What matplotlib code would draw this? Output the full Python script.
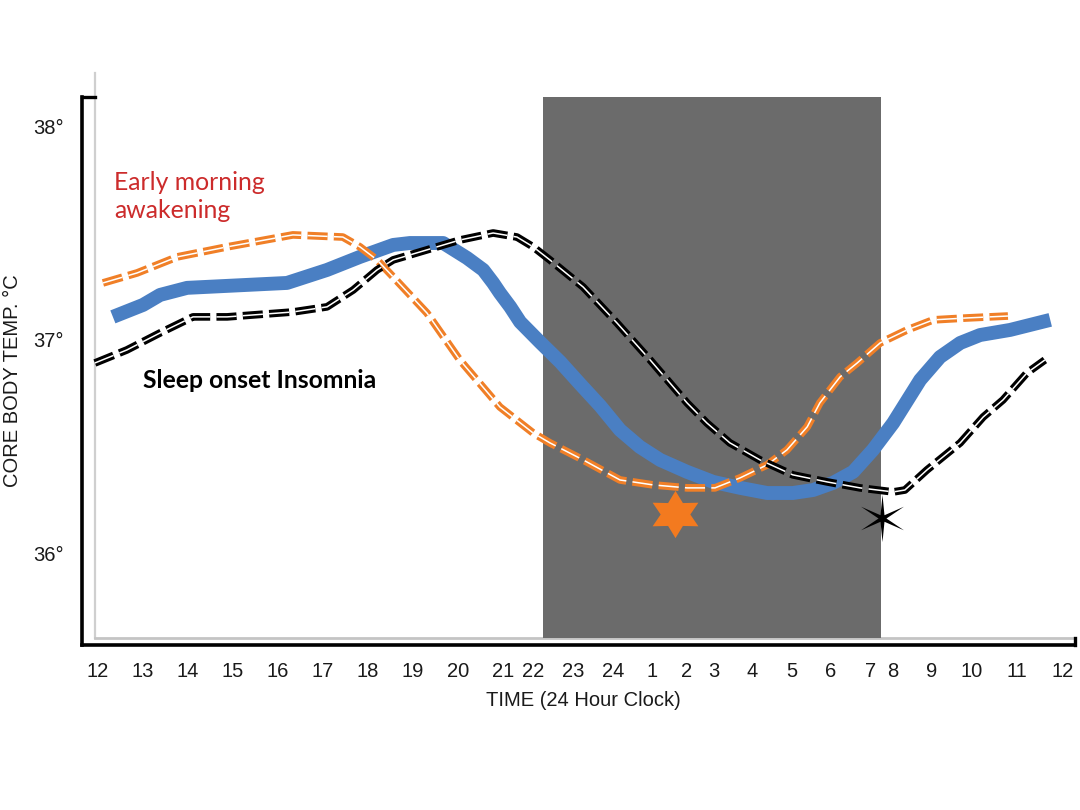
import matplotlib
matplotlib.use("Agg")
import matplotlib.pyplot as plt
from matplotlib.path import Path
from matplotlib.patches import Rectangle
from matplotlib.transforms import Affine2D

plt.rcParams['font.family'] = ['Liberation Sans', 'DejaVu Sans']
plt.rcParams['lines.scale_dashes'] = False

# x in hours after 12:00 noon (position along the drawn axis)
tick_labels = ["12", "13", "14", "15", "16", "17", "18", "19", "20", "21", "22", "23", "24",
               "1", "2", "3", "4", "5", "6", "7", "8", "9", "10", "11", "12"]
tick_pos = [0, 1, 2, 3, 4, 5, 6, 7, 8, 9, 9.67, 10.56, 11.44,
            12.31, 13.07, 13.69, 14.53, 15.42, 16.29, 17.16, 17.67, 18.53, 19.42, 20.42, 21.44]
y_ticks = [36, 37, 38]
y_tick_labels = ["36°", "37°", "38°"]

blue_x = [0.33, 1.0, 1.38, 1.98, 4.2, 5.09, 5.82, 6.56, 6.93, 7.67, 8.2, 8.56, 8.78, 8.93, 9.16,
          9.38, 9.82, 10.27, 10.71, 11.16, 11.6, 12.04, 12.49, 13.09, 13.67, 14.27, 14.87, 15.44,
          15.89, 16.33, 16.78, 17.22, 17.67, 18.27, 18.71, 19.16, 19.6, 20.27, 21.16]
blue_y = [37.108, 37.164, 37.211, 37.244, 37.267, 37.328, 37.389, 37.445, 37.454, 37.454, 37.384,
          37.328, 37.267, 37.22, 37.155, 37.084, 36.99, 36.897, 36.794, 36.691, 36.578, 36.499,
          36.438, 36.382, 36.335, 36.307, 36.283, 36.283, 36.297, 36.33, 36.382, 36.485, 36.611,
          36.813, 36.92, 36.986, 37.023, 37.047, 37.094]

orange_x = [0.11, 0.87, 1.76, 2.87, 4.33, 5.44, 5.82, 6.2, 6.56, 7.31, 8.04, 8.93, 9.67, 10.04,
            10.78, 11.6, 12.33, 13.09, 13.71, 14.27, 14.87, 15.31, 15.76, 16.04, 16.49, 16.87,
            17.38, 17.98, 18.56, 19.31, 20.22]
orange_y = [37.267, 37.314, 37.389, 37.436, 37.492, 37.482, 37.436, 37.375, 37.295, 37.126,
            36.906, 36.686, 36.564, 36.518, 36.438, 36.344, 36.321, 36.307, 36.307, 36.354,
            36.415, 36.485, 36.593, 36.705, 36.827, 36.892, 36.986, 37.047, 37.094, 37.103,
            37.112]

black_x = [-0.07, 0.64, 1.38, 2.11, 2.87, 4.33, 5.09, 5.67, 6.2, 6.56, 7.31, 8.04, 8.78, 9.31,
           9.67, 10.04, 10.78, 11.53, 12.27, 13.09, 13.53, 14.04, 14.71, 15.44, 16.2, 16.93,
           17.67, 17.93, 18.42, 19.16, 19.67, 20.11, 20.64, 21.04]
black_y = [36.892, 36.953, 37.033, 37.108, 37.108, 37.131, 37.155, 37.234, 37.328, 37.375,
           37.422, 37.468, 37.501, 37.482, 37.436, 37.375, 37.248, 37.08, 36.906, 36.705,
           36.611, 36.518, 36.438, 36.368, 36.335, 36.307, 36.288, 36.297, 36.391, 36.518,
           36.639, 36.719, 36.845, 36.906]

night_start, night_end = 9.89, 17.4
orange_star = (12.82, 36.185)
black_star = (17.42, 36.166)

XMIN, XMAX = -0.356, 21.71
YMIN, YMAX = 35.571, 38.138
FLOOR = 35.604
INNER_X = -0.067

fig = plt.figure(figsize=(10.8, 8.1), dpi=100)
fig.patch.set_facecolor('white')
ax = fig.add_axes([82 / 1080, 1 - 645 / 810, 993 / 1080, 548 / 810])
ax.set_xlim(XMIN, XMAX)
ax.set_ylim(YMIN, YMAX)

# night shading
ax.add_patch(Rectangle((night_start, FLOOR), night_end - night_start, YMAX - FLOOR,
                       facecolor='#6b6b6b', edgecolor='none', zorder=1))

# light grey inner frame
ax.plot([INNER_X, INNER_X], [FLOOR, 38.25], color='#cfcfcf', lw=1.6, clip_on=False, zorder=0.5)
ax.plot([INNER_X, XMAX], [FLOOR, FLOOR], color='#c4c4c4', lw=2.0, clip_on=False, zorder=0.5)

# blue curve
ax.plot(blue_x, blue_y, color='#4a7fc3', lw=10, solid_joinstyle='round',
        solid_capstyle='butt', zorder=3)

dash = (0, (14.5, 4.5))
# orange double dashed curve
ax.plot(orange_x, orange_y, color='#f07f27', lw=5.5, linestyle=dash,
        dash_joinstyle='round', zorder=4)
ax.plot(orange_x, orange_y, color='white', lw=1.1, linestyle=dash,
        dash_joinstyle='round', zorder=4.1)
# black double dashed curve
ax.plot(black_x, black_y, color='black', lw=5.5, linestyle=dash,
        dash_joinstyle='round', zorder=5)
ax.plot(black_x, black_y, color='white', lw=1.1, linestyle=dash,
        dash_joinstyle='round', zorder=5.1)

# stars
star6 = Path.unit_regular_star(6, 0.56)
star6 = Affine2D().scale(1.12, 1.0).transform_path(star6)
thin6 = Path.unit_regular_star(6, 0.16)
thin6 = Affine2D().scale(1.05, 1.0).transform_path(thin6)
ax.plot([orange_star[0]], [orange_star[1]], linestyle='none', marker=star6, markersize=34,
        color='#f37a1f', markeredgewidth=0, zorder=6)
ax.plot([black_star[0]], [black_star[1]], linestyle='none', marker=thin6, markersize=34,
        color='black', markeredgewidth=0, zorder=6)

# spines
for s in ['top', 'right']:
    ax.spines[s].set_visible(False)
for s in ['left', 'bottom']:
    ax.spines[s].set_color('black')
    ax.spines[s].set_linewidth(2.6)
ax.plot([XMIN, INNER_X], [YMAX, YMAX], color='black', lw=2.4, clip_on=False,
        solid_capstyle='projecting', zorder=7)
ax.plot([XMAX, XMAX], [YMIN, FLOOR], color='black', lw=2.4, clip_on=False, zorder=7)

ax.set_xticks(tick_pos)
ax.set_xticklabels(tick_labels, fontsize=14.5, color='#1a1a1a')
ax.set_yticks(y_ticks)
ax.set_yticklabels(y_tick_labels, fontsize=14.5, color='#1a1a1a')
ax.tick_params(axis='both', length=0)
ax.tick_params(axis='x', pad=12)
ax.tick_params(axis='y', pad=13)

fig.text(583 / 1080, 1 - 700 / 810, "TIME (24 Hour Clock)", fontsize=14.5,
         ha='center', va='center', color='#1a1a1a')
fig.text(13 / 1080, 1 - 381 / 810, "CORE BODY TEMP. °C", fontsize=14.5,
         ha='center', va='center', rotation=90, color='#1a1a1a')

ax.text(0.356, 37.672, "Early morning\nawakening", fontsize=17.8, family=['Lato', 'DejaVu Sans'],
        color='#cc2b2b', ha='left', va='center', linespacing=1.22, zorder=8)
ax.text(1.0, 36.808, "Sleep onset Insomnia", fontsize=17.8, family=['Lato', 'DejaVu Sans'],
        fontweight='bold', color='black', ha='left', va='center', zorder=8)

fig.savefig("out.png", dpi=100, facecolor='white')
